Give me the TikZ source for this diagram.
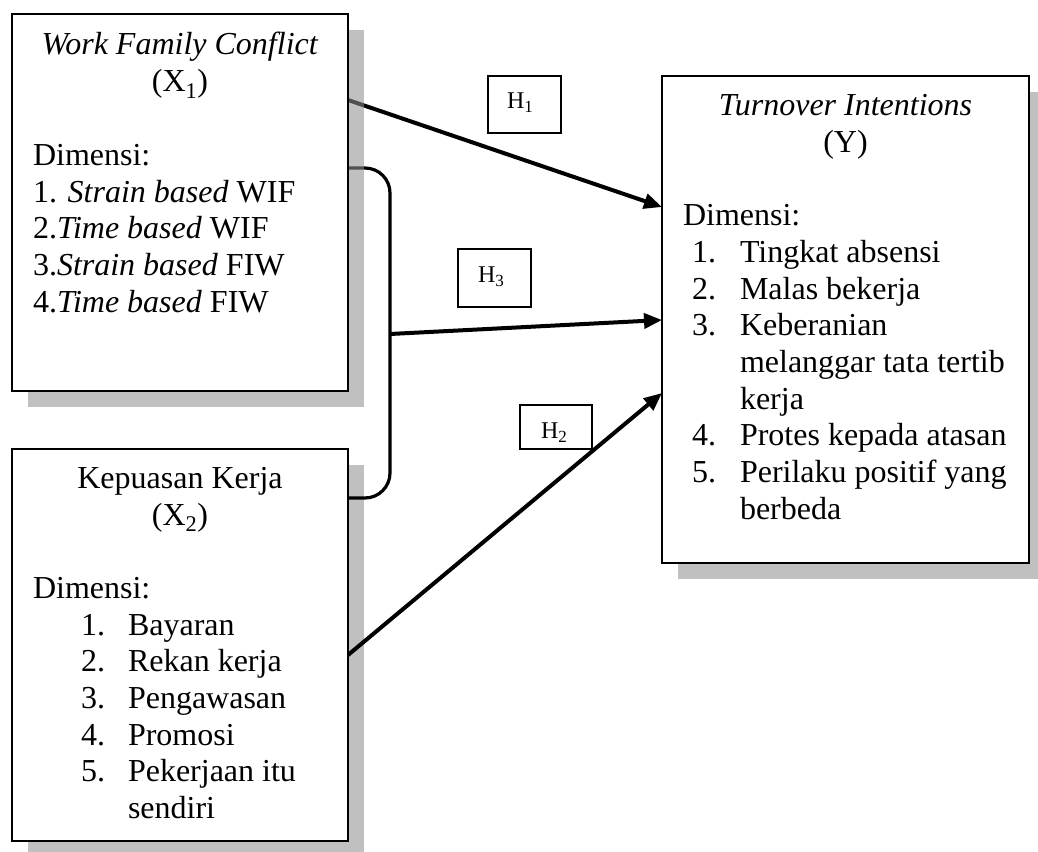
\documentclass[tikz,border=0pt]{standalone}
\usepackage{fontspec}
\setmainfont{Liberation Serif}
\usetikzlibrary{arrows.meta}
\definecolor{shadowgray}{RGB}{143,143,143}
\pgfdeclarelayer{shlow}
\pgfdeclarelayer{lines}
\pgfdeclarelayer{shhigh}
\pgfsetlayers{shlow,lines,shhigh,main}
\newcommand{\hlab}[1]{H\raisebox{-4pt}{\fontsize{17}{17}\selectfont #1}}
\begin{document}
\begin{tikzpicture}[x=1pt,y=-1pt,
  txt/.style={inner sep=0pt, outer sep=0pt, font=\fontsize{32}{36.7}\selectfont},
  htxt/.style={inner sep=0pt, outer sep=0pt, font=\fontsize{24}{28}\selectfont},
  boxstyle/.style={draw=black, line width=2pt, fill=white, inner sep=0pt, outer sep=0pt, anchor=north west},
  hbox/.style={draw=black, line width=2pt, fill=white, inner sep=0pt, outer sep=0pt, anchor=north west},
  shadowstyle/.style={fill=shadowgray, opacity=0.56},
  link/.style={line width=4pt, -{Triangle[length=18pt,width=15pt]}},
  bracketline/.style={line width=3.2pt, rounded corners=25pt}]
\useasboundingbox (0,0) rectangle (1038,851);

% boxes
\node[boxstyle, minimum width=336pt, minimum height=377pt] (x1) at (12,14) {};
\node[boxstyle, minimum width=336pt, minimum height=392pt] (x2) at (12,449) {};
\node[boxstyle, minimum width=367pt, minimum height=487pt] (y) at (662,76) {};
\node[hbox, minimum width=73pt, minimum height=57pt] (h1) at (488,76) {};
\node[hbox, minimum width=73pt, minimum height=58pt] (h3) at (458,249) {};
\node[hbox, minimum width=72pt, minimum height=44pt] (h2) at (520,405) {};

% H labels
\node[htxt, anchor=base west] (h1t) at (507,108) {\hlab{1}};
\node[htxt, anchor=base west] (h3t) at (478,282) {\hlab{3}};
\node[htxt, anchor=base west] (h2t) at (541,438) {\hlab{2}};

% X1 text
\node[txt, anchor=base] (x1a) at (180,55) {\textit{Work Family Conflict}};
\node[txt, anchor=base] (x1b) at (180,92) {(X\textsubscript{1})};
\node[txt, anchor=base west] (x1c) at (33,165) {Dimensi:};
\node[txt, anchor=base west] (x1d) at (33,202) {1. \textit{Strain based} WIF};
\node[txt, anchor=base west] (x1e) at (33,238) {2.\textit{Time based} WIF};
\node[txt, anchor=base west] (x1f) at (33,275) {3.\textit{Strain based} FIW};
\node[txt, anchor=base west] (x1g) at (33,312) {4.\textit{Time based} FIW};

% X2 text
\node[txt, anchor=base] (x2a) at (180,488) {Kepuasan Kerja};
\node[txt, anchor=base] (x2b) at (180,525) {(X\textsubscript{2})};
\node[txt, anchor=base west] (x2c) at (33,598) {Dimensi:};
\node[txt, anchor=base west] (x2n1) at (81,635) {1.};
\node[txt, anchor=base west] (x2t1) at (128,635) {Bayaran};
\node[txt, anchor=base west] (x2n2) at (81,671) {2.};
\node[txt, anchor=base west] (x2t2) at (128,671) {Rekan kerja};
\node[txt, anchor=base west] (x2n3) at (81,708) {3.};
\node[txt, anchor=base west] (x2t3) at (128,708) {Pengawasan};
\node[txt, anchor=base west] (x2n4) at (81,745) {4.};
\node[txt, anchor=base west] (x2t4) at (128,745) {Promosi};
\node[txt, anchor=base west] (x2n5) at (81,781) {5.};
\node[txt, anchor=base west] (x2t5) at (128,781) {Pekerjaan itu};
\node[txt, anchor=base west] (x2t6) at (128,818) {sendiri};

% Y text
\node[txt, anchor=base] (ya) at (845.5,115) {\textit{Turnover Intentions}};
\node[txt, anchor=base] (yb) at (845.5,152) {(Y)};
\node[txt, anchor=base west] (yc) at (683,225) {Dimensi:};
\node[txt, anchor=base west] (yn1) at (692,262) {1.};
\node[txt, anchor=base west] (yt1) at (740,262) {Tingkat absensi};
\node[txt, anchor=base west] (yn2) at (692,299) {2.};
\node[txt, anchor=base west] (yt2) at (740,299) {Malas bekerja};
\node[txt, anchor=base west] (yn3) at (692,335) {3.};
\node[txt, anchor=base west] (yt3) at (740,335) {Keberanian};
\node[txt, anchor=base west] (yt3b) at (740,372) {melanggar tata tertib};
\node[txt, anchor=base west] (yt3c) at (740,409) {kerja};
\node[txt, anchor=base west] (yn4) at (692,445) {4.};
\node[txt, anchor=base west] (yt4) at (740,445) {Protes kepada atasan};
\node[txt, anchor=base west] (yn5) at (692,482) {5.};
\node[txt, anchor=base west] (yt5) at (740,482) {Perilaku positif yang};
\node[txt, anchor=base west] (yt5b) at (740,519) {berbeda};

% level coordinates
\coordinate (lv1s) at (0,100);
\coordinate (lv1e) at (0,207);
\coordinate (lvbt) at (0,168);
\coordinate (lvbb) at (0,498);
\coordinate (lv3s) at (0,334);
\coordinate (lv3e) at (0,320);
\coordinate (lv2s) at (0,655);
\coordinate (lv2e) at (0,393);
\coordinate (bx) at (390,0);

\begin{pgfonlayer}{shlow}
  \fill[shadowstyle] ([shift={(16,16)}]x2.north west) rectangle ([shift={(16,16)}]x2.south east);
  \fill[shadowstyle] ([shift={(16,16)}]y.north west) rectangle ([shift={(16,16)}]y.south east);
\end{pgfonlayer}

\begin{pgfonlayer}{lines}
  \draw[link] (x1.east |- lv1s) -- (y.west |- lv1e);
  \draw[bracketline] (x1.east |- lvbt) -- (bx |- lvbt) -- (bx |- lvbb) -- (x2.east |- lvbb);
  \draw[link] (bx |- lv3s) -- (y.west |- lv3e);
  \draw[link] (x2.east |- lv2s) -- (y.west |- lv2e);
\end{pgfonlayer}

\begin{pgfonlayer}{shhigh}
  \fill[shadowstyle] ([shift={(16,16)}]x1.north west) rectangle ([shift={(16,16)}]x1.south east);
\end{pgfonlayer}
\end{tikzpicture}
\end{document}
